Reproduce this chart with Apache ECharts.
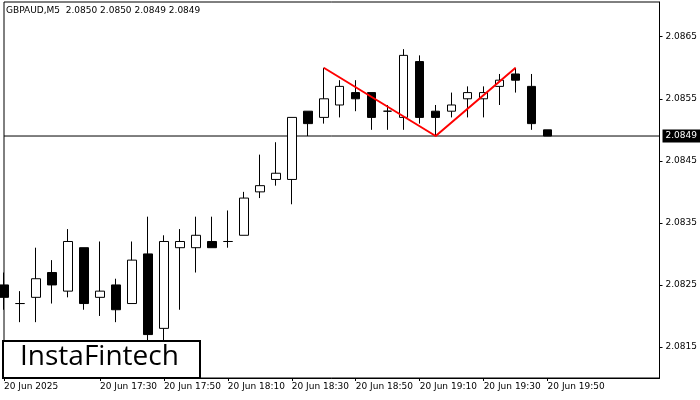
<!DOCTYPE html>
<html><head><meta charset="utf-8">
<script src="https://cdn.jsdelivr.net/npm/echarts@6/dist/echarts.min.js"></script>
<style>html,body{margin:0;padding:0;background:#fff}#c{width:700px;height:400px}</style>
</head><body><div id="c"></div>
<script>
const times = ["17:00","17:05","17:10","17:15","17:20","17:25","17:30","17:35","17:40","17:45","17:50","17:55","18:00","18:05","18:10","18:15","18:20","18:25","18:30","18:35","18:40","18:45","18:50","18:55","19:00","19:05","19:10","19:15","19:20","19:25","19:30","19:35","19:40","19:45","19:50","19:55","20:00","20:05","20:10","20:15","20:20","20:25"];
const opens  = [2.0825,2.0822,2.0823,2.0827,2.0824,2.0831,2.0823,2.0825,2.0822,2.0830,2.0818,2.0831,2.0831,2.0832,2.0832,2.0833,2.0840,2.0842,2.0842,2.0853,2.0852,2.0854,2.0856,2.0856,2.0853,2.0852,2.0861,2.0853,2.0853,2.0855,2.0855,2.0857,2.0859,2.0857,2.0850];
const closes = [2.0823,2.0822,2.0826,2.0825,2.0832,2.0822,2.0824,2.0821,2.0829,2.0817,2.0832,2.0832,2.0833,2.0831,2.0832,2.0839,2.0841,2.0843,2.0852,2.0851,2.0855,2.0857,2.0855,2.0852,2.0853,2.0862,2.0852,2.0852,2.0854,2.0856,2.0856,2.0858,2.0858,2.0851,2.0849];
const lows   = [2.0821,2.0819,2.0819,2.0822,2.0823,2.0821,2.0820,2.0819,2.0822,2.0816,2.0816,2.0821,2.0827,2.0831,2.0831,2.0833,2.0839,2.0841,2.0838,2.0849,2.0851,2.0852,2.0853,2.0850,2.0850,2.0850,2.0851,2.0849,2.0852,2.0852,2.0852,2.0854,2.0856,2.0850,2.0849];
const highs  = [2.0827,2.0824,2.0831,2.0829,2.0834,2.0831,2.0832,2.0826,2.0832,2.0836,2.0833,2.0834,2.0836,2.0836,2.0837,2.0840,2.0846,2.0848,2.0852,2.0853,2.0860,2.0858,2.0858,2.0856,2.0854,2.0863,2.0862,2.0854,2.0856,2.0857,2.0857,2.0859,2.0860,2.0859,2.0850];
const patternTimes = ["18:40","19:15","19:40"];
const patternPrices = [2.0860,2.0849,2.0860];
const currentPrice = 2.0849;
const yTicks = [2.0815,2.0825,2.0835,2.0845,2.0855,2.0865];
const labelIdx = [0,6,10,14,18,22,26,30,34];

const chart = echarts.init(document.getElementById('c'));
const candle = opens.map((o,i)=>[o,closes[i],lows[i],highs[i]]);
const last = times.length-1;
chart.setOption({
  animation:false,
  grid:{left:4,right:40,top:2,bottom:22,show:true,borderColor:'#000',borderWidth:1},
  xAxis:{type:'category',data:times,boundaryGap:false,
    axisLine:{show:true,lineStyle:{color:'#000'}},
    axisTick:{interval:(i)=>labelIdx.includes(i),lineStyle:{color:'#000'},length:3},
    axisLabel:{interval:(i)=>labelIdx.includes(i),color:'#000',fontSize:9,fontFamily:'DejaVu Sans',align:'left',margin:4,
      formatter:(v,i)=>i===0?'20 Jun 2025':'20 Jun '+v},
    splitLine:{show:false}},
  yAxis:{type:'value',position:'right',min:2.0810,max:2.08706,scale:true,
    axisLine:{show:true,lineStyle:{color:'#000'}},
    axisTick:{show:true,customValues:yTicks,length:3,lineStyle:{color:'#000'}},
    axisLabel:{customValues:yTicks,color:'#000',fontSize:9,fontFamily:'DejaVu Sans',margin:6,formatter:v=>v.toFixed(4)},
    splitLine:{show:false}},
  series:[
    {type:'line',data:[[times[0],currentPrice],[times[last],currentPrice]],symbol:'none',
     lineStyle:{color:'#000',width:1},z:1,
     endLabel:{show:true,formatter:currentPrice.toFixed(4),backgroundColor:'#000',color:'#fff',fontSize:9,fontFamily:'DejaVu Sans',padding:[2,3],distance:3}},
    {type:'candlestick',data:candle,barWidth:9,clip:true,z:3,
     itemStyle:{color:'#fff',color0:'#000',borderColor:'#000',borderColor0:'#000',borderWidth:1}},
    {type:'line',data:patternTimes.map((t,i)=>[t,patternPrices[i]]),symbol:'none',
     lineStyle:{color:'#ff0000',width:2},z:5}
  ],
  graphic:[
    {type:'text',left:6,top:6,style:{text:'GBPAUD,M5  2.0850 2.0850 2.0849 2.0849',fontSize:9,fontFamily:'DejaVu Sans',fill:'#000'}},
    {type:'rect',shape:{x:3,y:341,width:197,height:37},style:{fill:'#fff',stroke:'#000',lineWidth:2},z:10},
    {type:'text',left:20,top:343,style:{text:'InstaFintech',fontSize:28,fontFamily:'Open Sans',fill:'#000'},z:11}
  ]
});
</script></body></html>
